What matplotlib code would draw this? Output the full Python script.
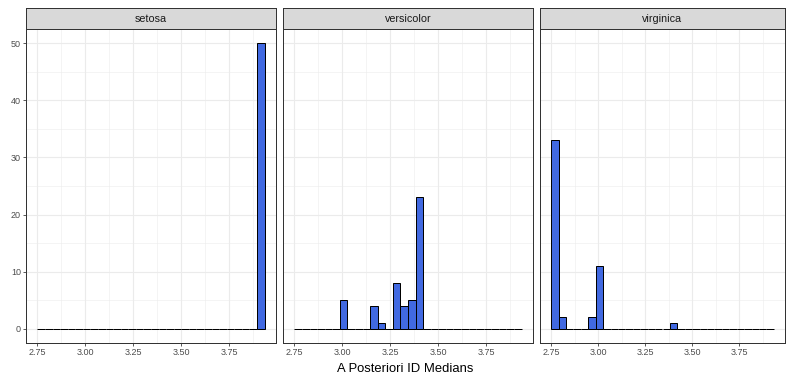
import matplotlib
matplotlib.use("Agg")
import matplotlib.pyplot as plt
import numpy as np

plt.rcParams['font.family'] = ['Liberation Sans', 'DejaVu Sans']

species = ['setosa', 'versicolor', 'virginica']

# histogram: 30 bins starting at 2.75
bin_start = 2.75
bin_width = 0.0395
n_bins = 30

counts = {
    'setosa':     [0, 0, 0, 0, 0, 0, 0, 0, 0, 0, 0, 0, 0, 0, 0,
                   0, 0, 0, 0, 0, 0, 0, 0, 0, 0, 0, 0, 0, 0, 50],
    'versicolor': [0, 0, 0, 0, 0, 0, 5, 0, 0, 0, 4, 1, 0, 8, 4,
                   5, 23, 0, 0, 0, 0, 0, 0, 0, 0, 0, 0, 0, 0, 0],
    'virginica':  [33, 2, 0, 0, 0, 2, 11, 0, 0, 0, 0, 0, 0, 0, 0,
                   0, 1, 0, 0, 0, 0, 0, 0, 0, 0, 0, 0, 0, 0, 0],
}

x_ticks = [2.75, 3.00, 3.25, 3.50, 3.75]
x_tick_labels = ['2.75', '3.00', '3.25', '3.50', '3.75']
x_minor = [2.875, 3.125, 3.375, 3.625, 3.875]
y_ticks = [0, 10, 20, 30, 40, 50]
y_minor = [5, 15, 25, 35, 45]

W, H = 789, 375
fig = plt.figure(figsize=(W / 72, H / 72), dpi=72)
fig.patch.set_facecolor('white')

panel_x = [(26, 276), (283, 533), (540, 785)]
panel_top, panel_bottom = 29, 343
strip_top = 8

edges = bin_start + bin_width * np.arange(n_bins)
x_lo = bin_start
x_hi = bin_start + bin_width * n_bins
pad = (x_hi - x_lo) * 0.05

for i, (name, (x0, x1)) in enumerate(zip(species, panel_x)):
    ax = fig.add_axes([x0 / W, (H - panel_bottom) / H,
                       (x1 - x0) / W, (panel_bottom - panel_top) / H])
    ax.set_xlim(x_lo - pad, x_hi + pad)
    ax.set_ylim(-2.5, 52.5)
    for v in x_minor:
        ax.axvline(v, color='#EBEBEB', lw=0.55, zorder=0)
    for v in y_minor:
        ax.axhline(v, color='#EBEBEB', lw=0.55, zorder=0)
    for v in x_ticks:
        ax.axvline(v, color='#EBEBEB', lw=1.1, zorder=0)
    for v in y_ticks:
        ax.axhline(v, color='#EBEBEB', lw=1.1, zorder=0)

    ax.bar(edges, counts[name], width=bin_width, align='edge',
           color='#4169E1', edgecolor='black', linewidth=1.0, zorder=2)

    ax.set_xticks(x_ticks)
    ax.set_xticklabels(x_tick_labels)
    ax.set_yticks(y_ticks)
    ax.tick_params(axis='both', length=2.75, width=0.8, color='#333333',
                   labelsize=9, labelcolor='#4D4D4D', pad=2.2)
    if i > 0:
        ax.tick_params(axis='y', left=False, labelleft=False)
    for sp in ax.spines.values():
        sp.set_color('#333333')
        sp.set_linewidth(1.0)

    # facet strip
    sax = fig.add_axes([x0 / W, (H - panel_top) / H,
                        (x1 - x0) / W, (panel_top - strip_top) / H])
    sax.set_facecolor('#D9D9D9')
    sax.set_xticks([])
    sax.set_yticks([])
    for sp in sax.spines.values():
        sp.set_color('#333333')
        sp.set_linewidth(1.0)
    sax.text(0.5, 0.5, name, ha='center', va='center', fontsize=10.8,
             color='#1A1A1A', transform=sax.transAxes)

fig.text((panel_x[0][0] + panel_x[-1][1]) / 2 / W, 1 - 369 / H,
         'A Posteriori ID Medians', ha='center', va='center',
         fontsize=13, color='black')

fig.savefig('out.png', dpi=72)
